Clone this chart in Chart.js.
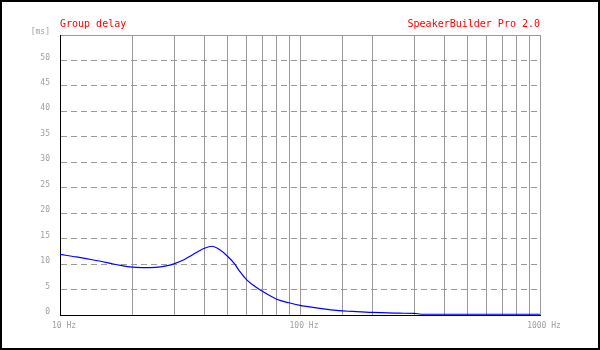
<!DOCTYPE html>
<html>
<head>
<meta charset="utf-8">
<script src="https://cdn.jsdelivr.net/npm/chart.js@4/dist/chart.umd.min.js"></script>
<style>
 body { margin: 0; background: #fff; }
 #wrap { width: 600px; height: 350px; }
</style>
</head>
<body>
<div id="wrap"><canvas id="gd" width="600" height="350"></canvas></div>
<script>
'use strict';

// frequency [Hz] and group delay [ms]
var freqs  = [10, 11.7, 13.8, 16, 17.8, 19.5, 22, 25, 28, 30, 33, 35, 40, 43, 46, 50, 53.5, 56, 60, 65, 70, 80, 90, 100, 115, 130, 145, 165, 200, 260, 300, 320, 1000];
var delays = [11.9, 11.4, 10.8, 10.2, 9.75, 9.45, 9.3, 9.35, 9.7, 10.1, 10.9, 11.6, 13.1, 13.5, 12.9, 11.5, 10.0, 8.6, 6.9, 5.6, 4.6, 3.1, 2.4, 1.9, 1.45, 1.1, 0.85, 0.7, 0.5, 0.35, 0.33, 0.15, 0.15];

var yTicks = [0, 5, 10, 15, 20, 25, 30, 35, 40, 45, 50, 55];
var xLabelled = [10, 100, 1000];
var titleLeft = 'Group delay';
var titleRight = 'SpeakerBuilder Pro 2.0';

var gridGray = '#9a9a9a';
var textGray = '#a0a0a0';
var monoFont = '"DejaVu Sans Mono", "Liberation Mono", monospace';

var pts = freqs.map(function (f, i) { return { x: f, y: delays[i] }; });

// frame + red titles
var decor = {
  id: 'decor',
  afterDraw: function (chart) {
    var ctx = chart.ctx;
    var a = chart.chartArea;
    ctx.save();
    ctx.strokeStyle = '#000';
    ctx.lineWidth = 2;
    ctx.strokeRect(1, 1, 598, 348);
    ctx.fillStyle = '#ff0000';
    ctx.font = '10px ' + monoFont;
    ctx.textBaseline = 'alphabetic';
    ctx.textAlign = 'left';
    ctx.fillText(titleLeft, a.left, 27);
    ctx.textAlign = 'right';
    ctx.fillText(titleRight, a.right, 27);
    ctx.restore();
  }
};

new Chart('gd', {
  type: 'line',
  data: {
    datasets: [{
      data: pts,
      borderColor: '#0000ff',
      borderWidth: 1.2,
      pointRadius: 0,
      cubicInterpolationMode: 'monotone',
      fill: false
    }]
  },
  options: {
    responsive: false,
    animation: false,
    layout: { padding: { left: 0, right: 60, top: 35, bottom: 0 } },
    plugins: { legend: { display: false }, tooltip: { enabled: false } },
    scales: {
      x: {
        type: 'logarithmic',
        min: 10,
        max: 1000,
        afterFit: function (s) { s.height = 35; },
        grid: { color: gridGray, lineWidth: 1, drawTicks: false },
        border: { color: '#000', width: 1 },
        ticks: {
          autoSkip: false,
          maxRotation: 0,
          padding: 6,
          labelOffset: 4,
          color: textGray,
          font: { family: monoFont, size: 8 },
          callback: function (v) { return xLabelled.indexOf(v) >= 0 ? v + ' Hz' : ''; }
        }
      },
      y: {
        min: 0,
        max: 55,
        afterFit: function (s) { s.width = 60; },
        afterBuildTicks: function (s) { s.ticks = yTicks.map(function (v) { return { value: v }; }); },
        grid: { color: gridGray, lineWidth: 1, drawTicks: false },
        border: {
          color: '#000',
          width: 1,
          dash: function (c) { return c.tick && c.tick.value === 55 ? [] : [6, 4]; }
        },
        ticks: {
          padding: 10,
          labelOffset: -3,
          color: textGray,
          font: { family: monoFont, size: 8 },
          callback: function (v) { return v === 55 ? '[ms]' : String(v); }
        }
      }
    }
  },
  plugins: [decor]
});
</script>
</body>
</html>
